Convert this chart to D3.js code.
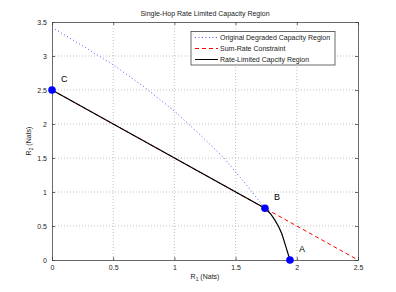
<!DOCTYPE html>
<html>
<head>
<meta charset="utf-8">
<script src="https://cdn.jsdelivr.net/npm/d3@7"></script>
<style>
  body { margin: 0; background: #fff; }
  text { font-family: "Liberation Sans", Arial, sans-serif; }
</style>
</head>
<body>
<svg id="chart" width="396" height="292"></svg>
<script>
// values
const xTicks = [0, 0.5, 1, 1.5, 2, 2.5];
const yTicks = [0, 0.5, 1, 1.5, 2, 2.5, 3, 3.5];

const originalR1 = [0, 0.25, 0.5, 0.75, 1.0, 1.2, 1.4, 1.6, 1.74];
const originalR2 = [3.42, 3.15, 2.87, 2.55, 2.19, 1.86, 1.51, 1.08, 0.76];

const sumRateR1 = [0, 2.5];
const sumRateR2 = [2.5, 0];

const limitedR1 = [0, 1.74, 1.785, 1.82, 1.852, 1.877, 1.91, 1.944];
const limitedR2 = [2.5, 0.76, 0.68, 0.59, 0.49, 0.39, 0.2, 0];

const cornerNames = ['C', 'B', 'A'];
const cornerR1 = [0, 1.74, 1.944];
const cornerR2 = [2.5, 0.76, 0];

const svg = d3.select('svg#chart');
const margin = {top: 22, right: 38, bottom: 32, left: 52};
const W = 396, H = 292;

const x = d3.scaleLinear().domain([0, 2.5]).range([margin.left, W - margin.right]);
const y = d3.scaleLinear().domain([0, 3.5]).range([H - margin.bottom, margin.top]);

// grid
svg.append('g').selectAll('line.vgrid')
  .data(xTicks.slice(1, -1))
  .enter().append('line')
  .attr('x1', d => x(d)).attr('x2', d => x(d))
  .attr('y1', y(0)).attr('y2', y(3.5))
  .style('stroke', '#999').style('stroke-width', 0.6).style('stroke-dasharray', '1,2');
svg.append('g').selectAll('line.hgrid')
  .data(yTicks.slice(1, -1))
  .enter().append('line')
  .attr('x1', x(0)).attr('x2', x(2.5))
  .attr('y1', d => y(d)).attr('y2', d => y(d))
  .style('stroke', '#999').style('stroke-width', 0.6).style('stroke-dasharray', '1,2');

// axes (ticks point inward like matlab)
const fmt = d => String(d);
svg.append('g')
  .attr('transform', `translate(0,${y(0)})`)
  .call(d3.axisBottom(x).tickValues(xTicks).tickFormat(fmt).tickSize(-3).tickPadding(5));
svg.append('g')
  .attr('transform', `translate(0,${y(3.5)})`)
  .call(d3.axisTop(x).tickValues(xTicks).tickFormat('').tickSize(-3));
svg.append('g')
  .attr('transform', `translate(${x(0)},0)`)
  .call(d3.axisLeft(y).tickValues(yTicks).tickFormat(fmt).tickSize(-3).tickPadding(5));
svg.append('g')
  .attr('transform', `translate(${x(2.5)},0)`)
  .call(d3.axisRight(y).tickValues(yTicks).tickFormat('').tickSize(-3));
svg.selectAll('.domain').style('stroke', '#444').style('stroke-width', 0.8);
svg.selectAll('.tick line').style('stroke', '#444').style('stroke-width', 0.8);
svg.selectAll('.tick text').style('font-size', '7px').style('fill', '#222');

const line = d3.line().x(d => x(d[0])).y(d => y(d[1]));
const zip = (a, b) => a.map((v, i) => [v, b[i]]);

svg.append('path')
  .attr('d', line(zip(originalR1, originalR2)))
  .style('fill', 'none').style('stroke', '#5555ff').style('stroke-width', 1)
  .style('stroke-dasharray', '1,2.5');

svg.append('path')
  .attr('d', line(zip(sumRateR1, sumRateR2)))
  .style('fill', 'none').style('stroke', '#ff0000').style('stroke-width', 1)
  .style('stroke-dasharray', '4,3');

svg.append('path')
  .attr('d', line(zip(limitedR1, limitedR2)))
  .style('fill', 'none').style('stroke', '#000').style('stroke-width', 1.2);

// corner points
const corners = cornerNames.map((n, i) => ({name: n, r1: cornerR1[i], r2: cornerR2[i]}));
svg.selectAll('circle.corner')
  .data(corners)
  .enter().append('circle')
  .attr('class', 'corner')
  .attr('cx', d => x(d.r1)).attr('cy', d => y(d.r2))
  .attr('r', 3.8)
  .style('fill', '#0000ff');
svg.selectAll('text.corner')
  .data(corners)
  .enter().append('text')
  .attr('x', d => x(d.r1) + 9).attr('y', d => y(d.r2) - 8)
  .style('font-size', '9px').style('fill', '#000')
  .text(d => d.name);

// title and axis labels
svg.append('text')
  .attr('x', (x(0) + x(2.5)) / 2).attr('y', 16)
  .style('text-anchor', 'middle').style('font-size', '7px').style('fill', '#222')
  .text('Single-Hop Rate Limited Capacity Region');

const xl = svg.append('text')
  .attr('x', (x(0) + x(2.5)) / 2).attr('y', 279)
  .style('text-anchor', 'middle').style('font-size', '7px').style('fill', '#222');
xl.append('tspan').text('R');
xl.append('tspan').attr('dy', 2).style('font-size', '5px').text('1');
xl.append('tspan').attr('dy', -2).text(' (Nats)');

const yl = svg.append('text')
  .attr('transform', `translate(31,${(y(0) + y(3.5)) / 2}) rotate(-90)`)
  .style('text-anchor', 'middle').style('font-size', '7px').style('fill', '#222');
yl.append('tspan').text('R');
yl.append('tspan').attr('dy', 2).style('font-size', '5px').text('2');
yl.append('tspan').attr('dy', -2).text(' (Nats)');

// legend
const legendNames = ['Original Degraded Capacity Region', 'Sum-Rate Constraint', 'Rate-Limited  Capcity Region'];
const legendColors = ['#5555ff', '#ff0000', '#000'];
const legendDash = ['1,2.5', '4,3', null];
const lg = svg.append('g');
lg.append('rect')
  .attr('x', 191).attr('y', 31.5).attr('width', 144).attr('height', 33.5)
  .style('fill', '#fff').style('stroke', '#444').style('stroke-width', 0.8);
legendNames.forEach((n, i) => {
  const ly = 37.5 + i * 11;
  lg.append('line')
    .attr('x1', 195).attr('x2', 218).attr('y1', ly).attr('y2', ly)
    .style('stroke', legendColors[i]).style('stroke-width', 1)
    .style('stroke-dasharray', legendDash[i]);
  lg.append('text')
    .attr('x', 220).attr('y', ly + 2.5)
    .style('font-size', '7px').style('fill', '#222')
    .text(n);
});
</script>
</body>
</html>
